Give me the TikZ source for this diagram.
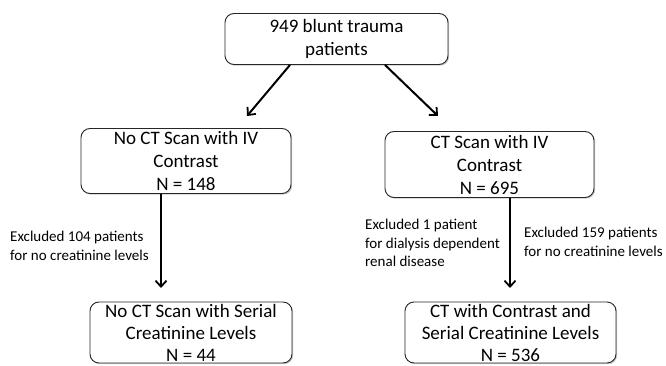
\documentclass[tikz,border=0pt]{standalone}
\usepackage{fontspec}
\setmainfont{Carlito}
\usetikzlibrary{arrows.meta,shadows,calc}

\tikzset{
  box/.style={draw=black!85, line width=0.9pt, rounded corners=9pt, fill=white,
    align=center, inner xsep=2pt, inner ysep=0pt,
    font=\fontsize{19}{23}\selectfont,
    drop shadow={shadow xshift=1.2pt, shadow yshift=-1.2pt, opacity=0.35, fill=black!60}},
  note/.style={anchor=west, align=left, inner sep=0pt,
    font=\fontsize{15}{18.5}\selectfont},
  arr/.style={-{Straight Barb[length=6pt,width=11pt,line width=1.8pt]}, line width=2pt}
}

\begin{document}
\begin{tikzpicture}[x=1pt, y=-1pt]
        \useasboundingbox (0,0) rectangle (666,366);

        % top
        \node[box, minimum width=223pt, minimum height=51pt] (all) at (336.5,39) {949 blunt trauma\\patients};

        % middle row
        \node[box, minimum width=210pt, minimum height=65pt] (noct) at (186,161) {No CT Scan with IV\\Contrast\\N = 148};
        \node[box, minimum width=209pt, minimum height=66pt] (ct) at (489.5,164.5) {CT Scan with IV\\Contrast\\N = 695};

        % bottom row
        \node[box, font=\fontsize{19}{22}\selectfont, minimum width=202pt, minimum height=61pt] (noctser) at (191,332.5) {No CT Scan with Serial\\Creatinine Levels\\N = 44};
        \node[box, font=\fontsize{19}{22}\selectfont, minimum width=211pt, minimum height=61pt] (ctser) at (510.5,332.5) {CT with Contrast and\\Serial Creatinine Levels\\N = 536};

        % arrow ends
        \coordinate (noctin) at (247,116);
        \coordinate (ctin) at (438,116);
        \coordinate (noctserin) at (161,288);
        \coordinate (ctserin) at (510,288);

        \draw[arr] ($(all.south)+(-46.5,0)$) -- (noctin);
        \draw[arr] ($(all.south)+(48.5,0)$) -- (ctin);
        \draw[arr] (noct.south -| noctserin) -- (noctserin);
        \draw[arr] (ct.south -| ctserin) -- (ctserin);

        % exclusions
        \node[note] (exnoct) at (10,246) {Excluded 104 patients\\for no creatinine levels};
        \node[note] (exdial) at (365,243) {Excluded 1 patient\\for dialysis dependent\\renal disease};
        \node[note] (exct) at (524,242) {Excluded 159 patients\\for no creatinine levels};
\end{tikzpicture}
\end{document}
